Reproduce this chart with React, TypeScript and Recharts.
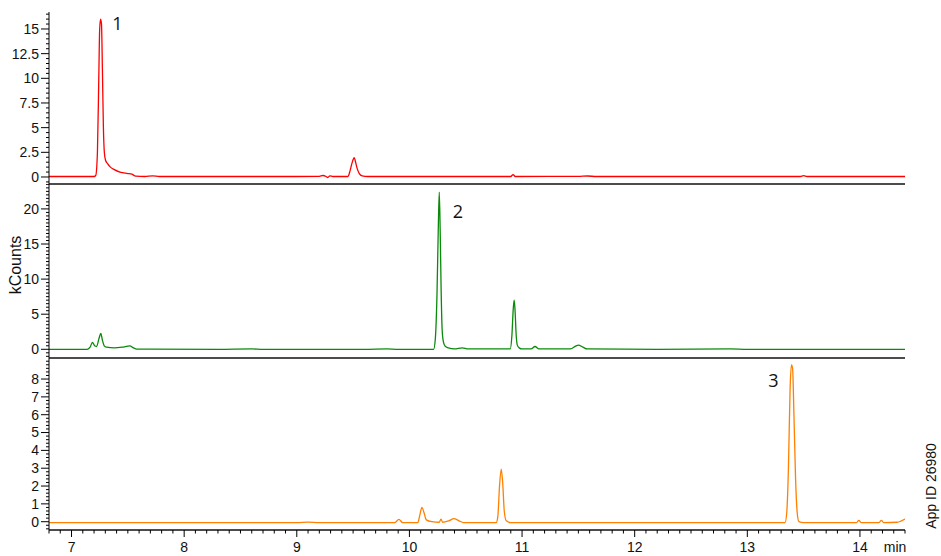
import React from 'react';
import { LineChart, Line, XAxis, YAxis, ReferenceLine } from 'recharts';

// retention time (min), signal (kCounts)
const redTrace: [number, number][] = [
    [6.8, 0.05], [7.0, 0.05], [7.2, 0.05], [7.215, 0.15], [7.23, 2.5], [7.242, 10], [7.25, 15],
    [7.258, 16], [7.266, 15.5], [7.274, 11], [7.283, 5], [7.292, 2.4], [7.302, 1.7], [7.32, 1.35],
    [7.345, 1.0], [7.38, 0.75], [7.43, 0.5], [7.5, 0.35], [7.535, 0.28], [7.57, 0.08], [7.65, 0.05],
    [7.72, 0.12], [7.78, 0.05], [8.2, 0.05], [8.8, 0.05], [9.2, 0.06], [9.232, 0.15], [9.26, 0.05],
    [9.275, -0.05], [9.294, 0.12], [9.32, 0.05], [9.455, 0.05], [9.47, 0.5], [9.49, 1.4], [9.51, 1.95],
    [9.52, 1.6], [9.535, 0.9], [9.555, 0.35], [9.58, 0.12], [9.63, 0.05], [10.2, 0.05], [10.9, 0.05],
    [10.92, 0.25], [10.94, 0.05], [11.5, 0.06], [11.58, 0.1], [11.66, 0.05], [12.5, 0.05], [13.47, 0.05],
    [13.5, 0.14], [13.53, 0.05], [14.4, 0.05],
];

const greenTrace: [number, number][] = [
    [6.8, 0], [7.14, 0], [7.165, 0.3], [7.186, 1.0], [7.205, 0.5], [7.222, 0.4], [7.245, 1.6], [7.26, 2.28],
    [7.274, 1.3], [7.29, 0.5], [7.31, 0.3], [7.38, 0.2], [7.45, 0.3], [7.518, 0.5], [7.55, 0.2], [7.58, 0.03],
    [7.7, 0.02], [8.3, 0], [8.6, 0.05], [8.7, 0], [9.6, 0], [9.8, 0.05], [9.9, 0], [10.215, 0],
    [10.23, 1.5], [10.245, 8], [10.256, 17], [10.265, 22.4], [10.273, 17], [10.281, 9], [10.29, 3],
    [10.3, 1.2], [10.315, 0.5], [10.345, 0.2], [10.4, 0.05], [10.47, 0.2], [10.52, 0.05], [10.895, 0.05],
    [10.91, 2], [10.922, 5.8], [10.93, 7.0], [10.938, 5.5], [10.948, 2], [10.958, 0.6], [10.975, 0.2],
    [11.0, 0.05], [11.08, 0.05], [11.115, 0.4], [11.15, 0.05], [11.43, 0.05], [11.48, 0.5], [11.5, 0.6],
    [11.54, 0.3], [11.58, 0.05], [12.2, 0], [12.85, 0.05], [13.0, 0], [14.4, 0],
];

const orangeTrace: [number, number][] = [
    [6.8, -0.05], [9.0, -0.05], [9.1, -0.02], [9.2, -0.05], [9.87, -0.05], [9.907, 0.13], [9.94, -0.05],
    [10.075, -0.05], [10.09, 0.3], [10.111, 0.8], [10.13, 0.5], [10.15, 0.1], [10.2, 0], [10.265, -0.03],
    [10.28, 0.15], [10.295, -0.03], [10.35, 0.05], [10.395, 0.17], [10.44, 0.05], [10.48, -0.05],
    [10.77, -0.05], [10.785, 0.3], [10.8, 2.0], [10.815, 2.95], [10.828, 2.2], [10.842, 0.6], [10.86, 0.05],
    [10.9, -0.05], [13.335, -0.05], [13.35, 0.5], [13.365, 3], [13.38, 7.5], [13.392, 8.8], [13.402, 8.6],
    [13.414, 6], [13.428, 2.5], [13.443, 0.5], [13.458, 0], [13.5, -0.05], [13.97, -0.05], [13.99, 0.08],
    [14.01, -0.05], [14.17, -0.05], [14.19, 0.08], [14.21, -0.05], [14.33, -0.03], [14.4, 0.15],
];

const xDomain: [number, number] = [6.8, 14.4];
const xMajor = [7, 8, 9, 10, 11, 12, 13, 14];

const panels = [
    { key: 'red', data: redTrace, color: '#ff0000', domain: [-0.71, 16.72], major: [0, 2.5, 5, 7.5, 10, 12.5, 15], minorStep: 0.5 },
    { key: 'green', data: greenTrace, color: '#0a8a0a', domain: [-1.24, 23.55], major: [0, 5, 10, 15, 20], minorStep: 0.5 },
    { key: 'orange', data: orangeTrace, color: '#ff8000', domain: [-0.465, 9.18], major: [0, 1, 2, 3, 4, 5, 6, 7, 8], minorStep: 0.2 },
];

const minorTicks = (lo: number, hi: number, step: number) => {
    const out: number[] = [];
    for (let v = Math.ceil(lo / step) * step; v <= hi + 1e-9; v += step) out.push(Math.round(v * 100) / 100);
    return out;
};

const isMajor = (v: number, major: number[]) => major.some((m) => Math.abs(m - v) < 1e-6);

const font = '"Liberation Sans", Arial, sans-serif';
const peakFont = '"Open Sans", sans-serif';

const makeYTick = (major: number[]) => (props: any) => {
    const { x, y, payload } = props;
    const big = isMajor(payload.value, major);
    return (
        <g>
            <line x1={x - (big ? 8 : 3)} x2={x} y1={y} y2={y} stroke="#000" strokeWidth={1} />
            {big && (
                <text x={x - 10} y={y} dy="0.35em" textAnchor="end" fontSize={14} fontFamily={font} fill="#111">
                    {String(payload.value)}
                </text>
            )}
        </g>
    );
};

const XTick = (props: any) => {
    const { x, y, payload } = props;
    const big = isMajor(payload.value, xMajor);
    return (
        <g>
            <line x1={x} x2={x} y1={y} y2={y + (big ? 7 : 3.5)} stroke="#000" strokeWidth={1} />
            {big && (
                <text x={x} y={y + 22} textAnchor="middle" fontSize={14} fontFamily={font} fill="#111">
                    {String(payload.value)}
                </text>
            )}
        </g>
    );
};

const tops = [0, 184, 358];
const heights = [186, 176, 198];

export default function App() {
    const xTicks = minorTicks(xDomain[0], xDomain[1], 0.1);
    return (
        <div style={{ position: 'absolute', left: 0, top: 0, width: 941, height: 556, background: '#fff' }}>
            {panels.map((p, i) => {
                const last = i === panels.length - 1;
                const rows = p.data.map(([t, v]) => ({ t, v }));
                const yTicks = minorTicks(p.domain[0], p.domain[1], p.minorStep);
                return (
                    <div key={p.key} style={{ position: 'absolute', left: 0, top: tops[i] }}>
                        <LineChart
                            width={941}
                            height={heights[i]}
                            data={rows}
                            margin={{ top: i === 0 ? 12 : 0, right: 36, bottom: last ? 0 : 2, left: 0 }}
                        >
                            <XAxis
                                dataKey="t"
                                type="number"
                                domain={xDomain}
                                allowDataOverflow
                                ticks={xTicks}
                                interval={0}
                                tick={XTick}
                                tickLine={false}
                                tickSize={0}
                                tickMargin={0}
                                height={26}
                                axisLine={{ stroke: '#111', strokeWidth: 1.5 }}
                                hide={!last}
                            />
                            <YAxis
                                type="number"
                                domain={p.domain}
                                allowDataOverflow
                                ticks={yTicks}
                                interval={0}
                                tick={makeYTick(p.major)}
                                tickLine={false}
                                tickSize={0}
                                tickMargin={0}
                                width={49}
                                axisLine={{ stroke: '#000', strokeWidth: 1 }}
                            />
                            {!last && <ReferenceLine y={p.domain[0]} stroke="#111" strokeWidth={1.5} />}
                            <Line
                                type="monotone"
                                dataKey="v"
                                stroke={p.color}
                                strokeWidth={1.3}
                                dot={false}
                                isAnimationActive={false}
                            />
                        </LineChart>
                    </div>
                );
            })}
            <svg width={941} height={556} style={{ position: 'absolute', left: 0, top: 0, pointerEvents: 'none' }}>
                <text x={117.5} y={30} textAnchor="middle" fontSize={18} fontFamily={peakFont} fill="#111">1</text>
                <text x={458} y={218} textAnchor="middle" fontSize={18} fontFamily={peakFont} fill="#111">2</text>
                <text x={773.5} y={387} textAnchor="middle" fontSize={18} fontFamily={peakFont} fill="#111">3</text>
                <text x={21} y={265} transform="rotate(-90 21 265)" textAnchor="middle" fontSize={16} fontFamily={font} fill="#111">kCounts</text>
                <text x={895} y={552} textAnchor="middle" fontSize={14} fontFamily={font} fill="#111">min</text>
                <text x={936} y={486} transform="rotate(-90 936 486)" textAnchor="middle" fontSize={14} fontFamily={font} fill="#111">App ID 26980</text>
            </svg>
        </div>
    );
}
